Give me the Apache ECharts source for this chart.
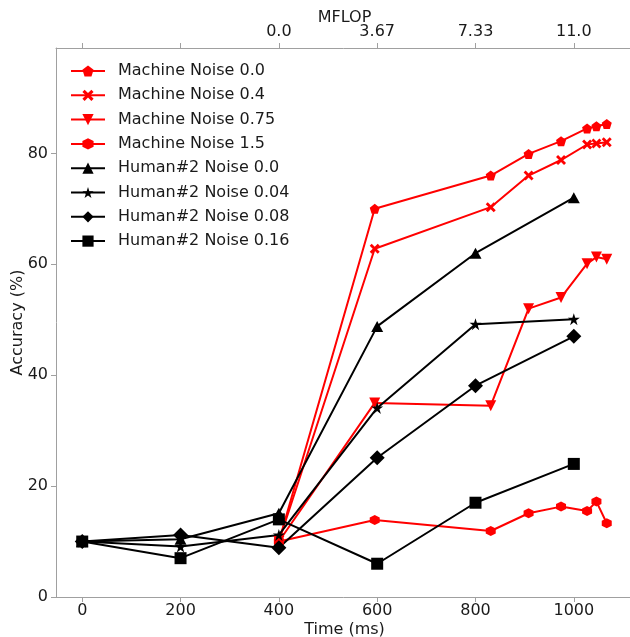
<!DOCTYPE html>
<html>
<head>
<meta charset="utf-8">
<script src="https://cdn.jsdelivr.net/npm/echarts@6/dist/echarts.min.js"></script>
<style>html,body{margin:0;padding:0;background:#fff}#c{width:630px;height:637px}</style>
</head>
<body>
<div id="c"></div>
<script>
// ---- data ----
var machineTime = [400, 595, 831, 908, 974, 1027, 1046, 1067];
var machine00  = [10, 70.0, 76.0, 79.9, 82.2, 84.5, 84.9, 85.3];
var machine04  = [10, 62.8, 70.3, 76.0, 78.8, 81.6, 81.8, 82.0];
var machine075 = [10, 35.0, 34.5, 52.0, 54.0, 60.1, 61.3, 60.9];
var machine15  = [10, 13.9, 11.9, 15.1, 16.3, 15.5, 17.2, 13.3];

var humanTime = [0, 200, 400, 600, 800, 1000];
var human00  = [10, 10.4, 15.1, 48.8, 62.0, 72.0];
var human004 = [10, 9.1, 11.2, 34.1, 49.2, 50.1];
var human008 = [10, 11.2, 8.9, 25.1, 38.1, 47.0];
var human016 = [10, 7.0, 14.0, 6.0, 17.0, 24.0];

var bottomTicks = [0, 200, 400, 600, 800, 1000];
var topTickPos = [0, 200, 400, 600, 800, 1000];
var topTickLabels = {400: '0.0', 600: '3.67', 800: '7.33', 1000: '11.0'};
var yTicks = [0, 20, 40, 60, 80];

var seriesNames = ['Machine Noise 0.0', 'Machine Noise 0.4', 'Machine Noise 0.75', 'Machine Noise 1.5',
                   'Human#2 Noise 0.0', 'Human#2 Noise 0.04', 'Human#2 Noise 0.08', 'Human#2 Noise 0.16'];

// ---- symbols ----
var SYM_PENT = 'path://M0,-1L0.951,-0.309L0.588,0.809L-0.588,0.809L-0.951,-0.309Z';
var SYM_X = 'path://M-1,-0.6L-0.6,-1L0,-0.4L0.6,-1L1,-0.6L0.4,0L1,0.6L0.6,1L0,0.4L-0.6,1L-1,0.6L-0.4,0Z';
var SYM_TDOWN = 'path://M-1,-1L1,-1L0,1Z';
var SYM_HEX = 'path://M0,-1L0.866,-0.5L0.866,0.5L0,1L-0.866,0.5L-0.866,-0.5Z';
var SYM_STAR = 'path://M0,-1L0.2245,-0.309L0.951,-0.309L0.3633,0.118L0.5878,0.809L0,0.382L-0.5878,0.809L-0.3633,0.118L-0.951,-0.309L-0.2245,-0.309Z';

function pairs(xs, ys) { return xs.map(function (x, i) { return [x, ys[i]]; }); }

function mk(name, xs, ys, color, symbol, size) {
  return {
    name: name, type: 'line', data: pairs(xs, ys),
    symbol: symbol, symbolSize: size, showSymbol: true,
    lineStyle: { color: color, width: 2 },
    itemStyle: { color: color, borderWidth: 0 },
    emphasis: { disabled: true }
  };
}

var RED = '#ff0000', BLK = '#000000';
var series = [
  mk(seriesNames[0], machineTime, machine00, RED, SYM_PENT, 10),
  mk(seriesNames[1], machineTime, machine04, RED, SYM_X, 10),
  mk(seriesNames[2], machineTime, machine075, RED, SYM_TDOWN, 11),
  mk(seriesNames[3], machineTime, machine15, RED, SYM_HEX, 10),
  mk(seriesNames[4], humanTime, human00, BLK, 'triangle', [12, 11]),
  mk(seriesNames[5], humanTime, human004, BLK, SYM_STAR, 12),
  mk(seriesNames[6], humanTime, human008, BLK, 'diamond', 15),
  mk(seriesNames[7], humanTime, human016, BLK, 'rect', 12)
];

var FONT = 'DejaVu Sans';
var FS = 16;
var TXT = '#1a1a1a';
var AX = '#a0a0a0';
var XMIN = -53.35, XMAX = 1120.4;

var chart = echarts.init(document.getElementById('c'), null, { renderer: 'canvas' });
chart.setOption({
  animation: false,
  backgroundColor: '#fff',
  textStyle: { fontFamily: FONT },
  grid: { left: 56, top: 48, width: 577, height: 549, containLabel: false, outerBoundsMode: 'none' },
  legend: {
    orient: 'vertical', left: 65, top: 58,
    itemWidth: 34, itemHeight: 14, itemGap: 8.3,
    selectedMode: false,
    textStyle: { fontFamily: FONT, fontSize: FS, color: TXT, padding: [0, 0, 0, 8] },
    data: seriesNames
  },
  xAxis: [{
    type: 'value', position: 'bottom', min: XMIN, max: XMAX,
    name: 'Time (ms)', nameLocation: 'middle', nameGap: 25, nameMoveOverlap: false,
    nameTextStyle: { fontFamily: FONT, fontSize: FS, color: TXT },
    axisLine: { show: true, onZero: false, lineStyle: { color: AX, width: 1 } },
    axisTick: { show: true, length: 5, lineStyle: { color: AX }, customValues: bottomTicks },
    axisLabel: { fontFamily: FONT, fontSize: FS, color: TXT, margin: 6, customValues: bottomTicks,
      formatter: function (v) { return String(v); } },
    splitLine: { show: false }
  }, {
    type: 'value', position: 'top', min: XMIN, max: XMAX,
    name: 'MFLOP', nameLocation: 'middle', nameGap: 22, nameMoveOverlap: false,
    nameTextStyle: { fontFamily: FONT, fontSize: FS, color: TXT },
    axisLine: { show: true, onZero: false, lineStyle: { color: AX, width: 1 } },
    axisTick: { show: true, length: 5, lineStyle: { color: AX }, customValues: topTickPos },
    axisLabel: { fontFamily: FONT, fontSize: FS, color: TXT, margin: 8,
      customValues: topTickPos,
      formatter: function (v) { return topTickLabels[v] !== undefined ? topTickLabels[v] : ''; } },
    splitLine: { show: false }
  }],
  yAxis: [{
    type: 'value', min: 0, max: 99,
    name: 'Accuracy (%)', nameLocation: 'middle', nameGap: 30, nameRotate: 90, nameMoveOverlap: false,
    nameTextStyle: { fontFamily: FONT, fontSize: FS, color: TXT },
    axisLine: { show: true, onZero: false, lineStyle: { color: AX, width: 1 } },
    axisTick: { show: true, length: 5, lineStyle: { color: AX }, customValues: yTicks },
    axisLabel: { fontFamily: FONT, fontSize: FS, color: TXT, margin: 8, customValues: yTicks },
    splitLine: { show: false }
  }],
  series: series
});
</script>
</body>
</html>
